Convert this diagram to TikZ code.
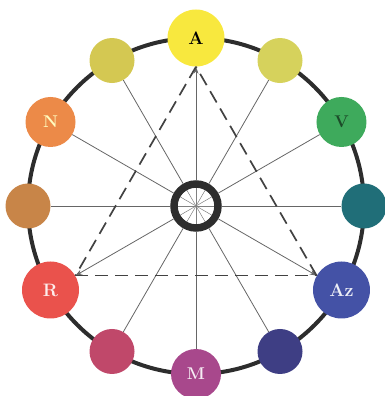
\documentclass[tikz,border=0pt]{standalone}
\usepackage{tikz}
\usetikzlibrary{arrows.meta,calc}

\definecolor{hueA}{RGB}{248,232,62}
\definecolor{hueAN}{RGB}{212,200,82}
\definecolor{hueAV}{RGB}{214,210,92}
\definecolor{hueN}{RGB}{236,138,72}
\definecolor{hueNR}{RGB}{200,133,72}
\definecolor{hueR}{RGB}{234,82,76}
\definecolor{hueRM}{RGB}{192,72,106}
\definecolor{hueM}{RGB}{168,72,140}
\definecolor{hueMAz}{RGB}{62,62,132}
\definecolor{hueAz}{RGB}{68,82,166}
\definecolor{hueAzV}{RGB}{32,110,120}
\definecolor{hueV}{RGB}{62,170,92}
\definecolor{rim}{RGB}{45,45,45}

\tikzset{
  primary/.style={circle,minimum size=57pt,inner sep=0pt,font=\fontsize{18}{18}\selectfont\bfseries},
  secondary/.style={circle,minimum size=50pt,inner sep=0pt,font=\fontsize{17}{17}\selectfont\bfseries},
  tertiary/.style={circle,minimum size=45pt,inner sep=0pt},
  spoke/.style={gray!80!black,line width=0.8pt},
  triad/.style={rim!90,line width=1.7pt,dash pattern=on 13pt off 7pt}
}

\begin{document}
\begin{tikzpicture}[x=1pt,y=1pt,>={Stealth[length=7pt,width=5pt]}]
\useasboundingbox (0,0) rectangle (384,396);
\coordinate (o) at (196,190);

% rim of the wheel
\draw[rim,line width=4pt] (o) circle (168);

% inner wheel
\foreach \k in {0,...,11}
  \draw[gray,line width=0.5pt] (o) -- ++(\k*30:19);
\node[circle,draw=rim,line width=7.5pt,minimum size=44pt,inner sep=0pt] (hub) at (o) {};

% colours
\node[primary,fill=hueA] (a) at ($(o)+(90:168)$) {A};
\node[tertiary,fill=hueAV] (av) at ($(o)+(60:168)$) {};
\node[secondary,fill=hueV,text=hueV!45!black] (v) at ($(o)+(30:168)$) {V};
\node[tertiary,fill=hueAzV] (azv) at ($(o)+(0:168)$) {};
\node[primary,fill=hueAz,text=white!90!hueAz] (az) at ($(o)+(-30:168)$) {Az};
\node[tertiary,fill=hueMAz] (maz) at ($(o)+(-60:168)$) {};
\node[secondary,fill=hueM,text=white!90!hueM] (m) at ($(o)+(-90:168)$) {M};
\node[tertiary,fill=hueRM] (rm) at ($(o)+(-120:168)$) {};
\node[primary,fill=hueR,text=white!90!hueR] (r) at ($(o)+(-150:168)$) {R};
\node[tertiary,fill=hueNR] (nr) at ($(o)+(180:168)$) {};
\node[secondary,fill=hueN,text=white!75!yellow] (n) at ($(o)+(150:168)$) {N};
\node[tertiary,fill=hueAN] (an) at ($(o)+(120:168)$) {};

% spokes
\draw[spoke,->] (hub) -- (a);
\draw[spoke] (hub) -- (av);
\draw[spoke] (hub) -- (v);
\draw[spoke] (hub) -- (azv);
\draw[spoke,->] (hub) -- (az);
\draw[spoke] (hub) -- (maz);
\draw[spoke] (hub) -- (m);
\draw[spoke] (hub) -- (rm);
\draw[spoke,->] (hub) -- (r);
\draw[spoke] (hub) -- (nr);
\draw[spoke] (hub) -- (n);
\draw[spoke] (hub) -- (an);

% triad
\draw[triad] (a.south) -- (r.30);
\draw[triad] (r.30) -- (az.150);
\draw[triad] (az.150) -- (a.south);
\end{tikzpicture}
\end{document}
